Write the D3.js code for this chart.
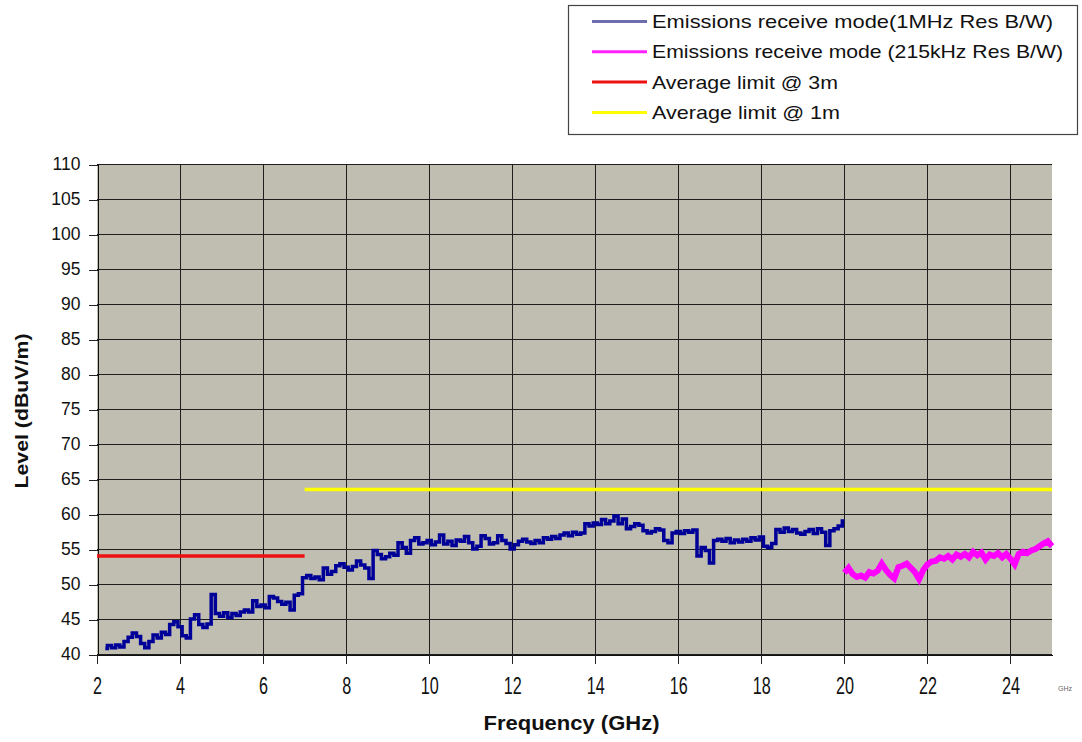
<!DOCTYPE html>
<html>
<head>
<meta charset="utf-8">
<script src="https://cdn.jsdelivr.net/npm/d3@7"></script>
<style>
  html, body { margin: 0; padding: 0; background: #ffffff; }
  svg { display: block; font-family: Arial, "Liberation Sans", sans-serif; }
</style>
</head>
<body>
<svg id="chart" width="1082" height="742"></svg>
<script>
// ---------------- data ----------------
const seriesNames = [
  "Emissions receive mode(1MHz Res B/W)",
  "Emissions receive mode (215kHz Res B/W)",
  "Average limit @ 3m",
  "Average limit @ 1m"
];
const xTickValues = [2, 4, 6, 8, 10, 12, 14, 16, 18, 20, 22, 24];
const yTickValues = [40, 45, 50, 55, 60, 65, 70, 75, 80, 85, 90, 95, 100, 105, 110];
const xUnitLabel = "GHz";
const xTitle = "Frequency (GHz)";
const yTitle = "Level (dBuV/m)";

// 1 MHz RBW sweep, 2.2 .. 20.0 GHz, 0.1 GHz steps
const emis1MHzStart = 2.2;
const emis1MHzStep = 0.1;
const emis1MHz = [
  40.8,41.2,40.9,41.3,41.0,41.8,42.4,43.0,
  42.5,41.5,40.9,41.8,42.7,42.3,43.1,42.8,44.2,44.6,
  43.9,42.6,42.3,45.0,45.6,44.2,43.8,44.3,48.5,45.8,
  45.4,45.9,45.2,45.8,45.5,46.0,46.3,46.0,47.6,46.8,
  47.0,46.6,48.2,48.0,47.5,47.1,47.4,46.3,48.4,48.6,
  50.9,51.2,50.8,51.0,50.6,52.3,51.4,51.8,52.6,52.9,
  52.4,52.0,52.5,53.3,52.7,52.3,50.8,54.8,54.2,53.6,
  53.9,54.4,54.1,55.9,55.2,54.4,56.2,56.6,55.7,55.9,
  56.2,55.6,56.0,57.0,55.7,56.1,55.5,56.3,56.1,56.8,
  55.9,55.0,55.4,56.9,56.5,55.7,55.9,56.9,56.2,55.8,
  55.0,55.6,56.1,56.4,56.0,55.8,56.2,55.9,56.6,56.4,
  56.8,56.5,57.0,57.3,56.9,57.4,57.1,57.3,58.6,58.3,
  58.7,58.5,59.2,58.6,59.0,59.7,58.6,59.3,57.9,58.2,
  58.6,58.4,57.6,57.3,57.5,57.9,57.7,56.2,55.9,57.3,
  57.5,57.2,57.6,57.4,57.7,54.0,55.2,54.8,53.0,56.2,
  56.4,56.1,56.5,55.9,56.3,56.0,56.4,56.1,56.6,56.3,
  56.7,55.4,55.2,55.8,57.8,57.4,58.0,57.5,57.8,57.3,
  57.1,57.5,57.8,57.2,57.9,57.4,55.5,57.6,57.9,58.3,
  59.0
];

// 215 kHz RBW sweep, 20.0 .. 25.0 GHz, 0.1 GHz steps
const emis215kStart = 20.0;
const emis215kStep = 0.1;
const emis215k = [
  51.6,52.3,51.4,51.0,51.2,50.9,51.7,51.5,51.9,52.9,
  52.0,51.3,50.8,52.4,52.6,52.9,52.3,51.7,50.7,52.0,
  52.8,53.2,53.3,53.8,53.6,54.0,53.5,54.2,53.9,54.3,
  53.8,54.6,54.1,54.5,53.5,54.2,54.0,54.4,53.8,54.3,
  53.6,52.8,54.3,54.6,54.4,54.8,55.0,55.4,55.8,56.1,
  55.4
];

// limit lines: [startGHz, endGHz], level
const limit3mRange = [2, 7];
const limit3mLevel = 54;
const limit1mRange = [7, 25];
const limit1mLevel = 63.5;

// ---------------- layout / styles ----------------
const colors = ["#000099", "#ff00ff", "#ee1111", "#ffff00"];
const legendLineColors = ["#6c6cae", "#ff22ff", "#ee1111", "#ffff00"];
const legendTextLengths = [401, 411, 186, 188];

const svg = d3.select("#chart");
const plot = { left: 97, right: 1052, top: 164, bottom: 654 };

const x = d3.scaleLinear().domain([2, 25]).range([plot.left, plot.right]);
const y = d3.scaleLinear().domain([40, 110]).range([plot.bottom, plot.top]);

// plot background
svg.append("rect")
  .attr("x", x(2)).attr("y", y(110))
  .attr("width", x(25) - x(2)).attr("height", y(40) - y(110))
  .attr("fill", "#bfbeb0");

// grid lines
const grid = svg.append("g").attr("stroke", "#1e1e1e").attr("stroke-width", 1.2).attr("shape-rendering", "crispEdges");
grid.selectAll("line.h").data(yTickValues).join("line")
  .attr("x1", x(2)).attr("x2", x(25))
  .attr("y1", d => Math.round(y(d)) + 0.5).attr("y2", d => Math.round(y(d)) + 0.5);
grid.selectAll("line.v").data(xTickValues.filter(v => v > 2)).join("line")
  .attr("y1", y(110)).attr("y2", y(40))
  .attr("x1", d => Math.round(x(d)) + 0.5).attr("x2", d => Math.round(x(d)) + 0.5);

// axes
const yAxis = svg.append("g")
  .attr("transform", `translate(${Math.round(x(2)) + 0.5},0)`)
  .call(d3.axisLeft(y).tickValues(yTickValues).tickSize(9).tickSizeOuter(0).tickPadding(8).tickFormat(d3.format("d")));
yAxis.select(".domain").attr("stroke", "#111").attr("shape-rendering", "crispEdges");
yAxis.selectAll(".tick line").attr("stroke", "#222").attr("shape-rendering", "crispEdges");
yAxis.selectAll(".tick line").attr("transform", d => `translate(0,${Math.round(y(d)) + 0.5 - y(d)})`);
yAxis.selectAll(".tick text")
  .attr("fill", "#111").style("font-size", "17.5px").style("font-family", "Arial, 'Liberation Sans', sans-serif");

const xAxis = svg.append("g")
  .attr("transform", `translate(0,${Math.round(y(40)) + 0.5})`)
  .call(d3.axisBottom(x).tickValues(xTickValues).tickSize(9).tickSizeOuter(0).tickPadding(14).tickFormat(d3.format("d")));
xAxis.select(".domain").attr("stroke", "#111").attr("shape-rendering", "crispEdges");
xAxis.selectAll(".tick line").attr("stroke", "#222").attr("shape-rendering", "crispEdges");
xAxis.selectAll(".tick text")
  .attr("fill", "#111")
  .style("font-size", "23px")
  .style("font-family", "Arial, 'Liberation Sans', sans-serif")
  .attr("textLength", d => String(d).length * 9)
  .attr("lengthAdjust", "spacingAndGlyphs");

// tiny unit label at the end of the x axis
svg.append("text")
  .attr("x", x(25) + 13).attr("y", y(40) + 37)
  .attr("text-anchor", "middle")
  .attr("fill", "#666").style("font-size", "7px")
  .text(xUnitLabel);

// axis titles
svg.append("text")
  .attr("x", (x(2) + x(25)) / 2 - 3).attr("y", 730)
  .attr("text-anchor", "middle")
  .attr("fill", "#111")
  .style("font-size", "20px").style("font-weight", "bold")
  .attr("textLength", 176).attr("lengthAdjust", "spacingAndGlyphs")
  .text(xTitle);

svg.append("text")
  .attr("transform", `translate(28,${(y(40) + y(110)) / 2 + 2}) rotate(-90)`)
  .attr("text-anchor", "middle")
  .attr("fill", "#111")
  .style("font-size", "17.5px").style("font-weight", "bold")
  .attr("textLength", 155).attr("lengthAdjust", "spacingAndGlyphs")
  .text(yTitle);

// limit lines
const limits = [
  { range: limit3mRange, level: limit3mLevel, color: colors[2] },
  { range: limit1mRange, level: limit1mLevel, color: colors[3] }
];
svg.selectAll("line.limit").data(limits).join("line")
  .attr("class", "limit")
  .attr("x1", d => x(d.range[0])).attr("x2", d => x(d.range[1]))
  .attr("y1", d => y(d.level)).attr("y2", d => y(d.level))
  .attr("stroke", d => d.color).attr("stroke-width", 3.5);

// emission traces
const pts1 = emis1MHz.map((v, i) => [emis1MHzStart + i * emis1MHzStep, v]);
const pts2 = emis215k.map((v, i) => [emis215kStart + i * emis215kStep, v]);
const stepLine = d3.line().x(d => x(d[0])).y(d => y(d[1])).curve(d3.curveStep);
const plainLine = d3.line().x(d => x(d[0])).y(d => y(d[1]));

svg.append("path").datum(pts1)
  .attr("d", stepLine).attr("fill", "none")
  .attr("stroke", colors[0]).attr("stroke-width", 3.5).attr("stroke-linejoin", "miter");
svg.append("path").datum(pts2)
  .attr("d", plainLine).attr("fill", "none")
  .attr("stroke", colors[1]).attr("stroke-width", 6).attr("stroke-linejoin", "miter");

// legend
const lg = svg.append("g");
lg.append("rect")
  .attr("x", 568.5).attr("y", 5.5).attr("width", 509).attr("height", 129)
  .attr("fill", "#fff").attr("stroke", "#444").attr("stroke-width", 1.2);
const rows = lg.selectAll("g.row").data(seriesNames).join("g")
  .attr("class", "row")
  .attr("transform", (d, i) => `translate(592,${21.5 + i * 30.3})`);
rows.append("line")
  .attr("x1", 0).attr("x2", 55).attr("y1", 0).attr("y2", 0)
  .attr("stroke", (d, i) => legendLineColors[i]).attr("stroke-width", 3);
rows.append("text")
  .attr("x", 60).attr("y", 0).attr("dy", "0.36em")
  .attr("fill", "#111")
  .style("font-size", "18.5px")
  .attr("textLength", (d, i) => legendTextLengths[i]).attr("lengthAdjust", "spacingAndGlyphs")
  .text(d => d);
</script>
</body>
</html>
